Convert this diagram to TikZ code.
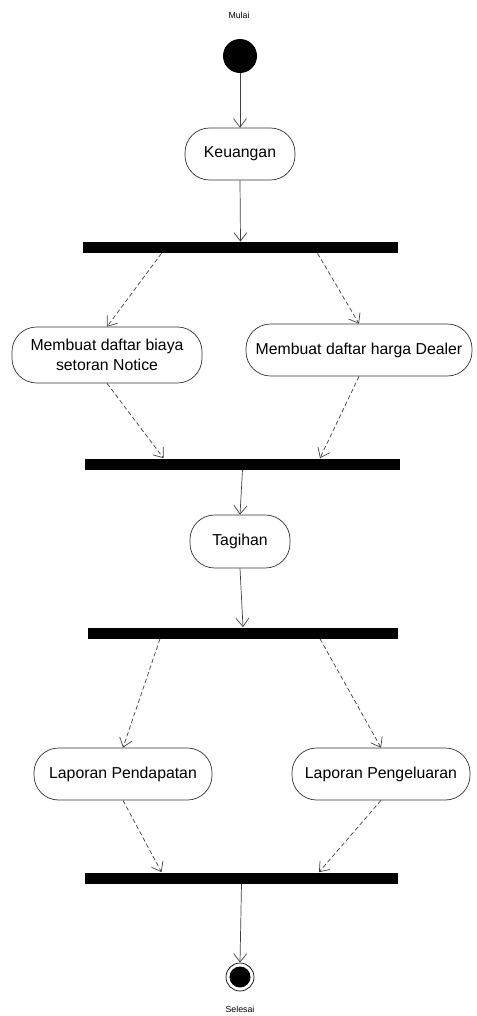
\documentclass[tikz,border=0pt]{standalone}
\usepackage{fontspec}
\setmainfont{Liberation Sans}
\usetikzlibrary{arrows.meta, positioning, calc}

\begin{document}
\begin{tikzpicture}[
        aktivitas/.style={
            rectangle,
            rounded corners=14pt,
            minimum height=1.04cm,
            align=center,
            font=\small,
            draw=black!80,
            thin,
            inner sep=2pt
        },
        batang/.style={
            rectangle,
            fill=black,
            minimum height=0.22cm,
            inner sep=0pt
        },
        label/.style={font=\tiny, inner sep=1pt},
        panah/.style={-{Straight Barb[length=1.7mm, width=2.6mm]}, draw=black!75, thin},
        putus/.style={panah, dash pattern=on 2.5pt off 1.5pt}
    ]
        \useasboundingbox (0,0) rectangle (9.52,-20.32);

        % awal
        \node[label] (mulailbl) at (4.78,-0.30) {Mulai};
        \node[circle, fill=black, minimum size=0.68cm, inner sep=0pt] (mulai) at (4.80,-1.12) {};

        \node[aktivitas, minimum width=2.2cm] (keuangan) at (4.80,-3.08) {Keuangan};
        \node[batang, minimum width=6.3cm] (bar1) at (4.81,-4.95) {};

        % cabang pertama
        \node[aktivitas, minimum width=3.8cm, minimum height=1.12cm] (biaya) at (2.14,-7.10)
            {Membuat daftar biaya\\setoran Notice};
        \node[aktivitas, minimum width=4.52cm] (harga) at (7.18,-7.00)
            {Membuat daftar harga Dealer};
        \node[batang, minimum width=6.3cm] (bar2) at (4.85,-9.28) {};

        \node[aktivitas, minimum width=2.0cm, minimum height=1.06cm] (tagihan) at (4.80,-10.83) {Tagihan};
        \node[batang, minimum width=6.2cm] (bar3) at (4.86,-12.66) {};

        % cabang kedua
        \node[aktivitas, minimum width=3.56cm] (pendapatan) at (2.46,-15.48) {Laporan Pendapatan};
        \node[aktivitas, minimum width=3.56cm] (pengeluaran) at (7.62,-15.48) {Laporan Pengeluaran};
        \node[batang, minimum width=6.26cm] (bar4) at (4.83,-17.56) {};

        % akhir
        \node[circle, draw=black, thin, minimum size=0.56cm, inner sep=0pt] (selesai) at (4.80,-19.54) {};
        \node[circle, fill=black, minimum size=0.42cm, inner sep=0pt] (selesaidot) at (selesai.center) {};
        \node[label] (selesailbl) at (4.80,-20.18) {Selesai};

        \draw[panah] (mulai.south) -- (keuangan.north);
        \draw[panah] (keuangan.south) -- (bar1.north);
        \draw[putus] ([xshift=-1.58cm]bar1.south) -- (biaya.north);
        \draw[putus] ([xshift=1.54cm]bar1.south) -- (harga.north);
        \draw[putus] (biaya.south) -- ([xshift=-1.58cm]bar2.north);
        \draw[putus] (harga.south) -- ([xshift=1.55cm]bar2.north);
        \draw[panah] (bar2.south) -- (tagihan.north);
        \draw[panah] (tagihan.south) -- (bar3.north);
        \draw[putus] ([xshift=-1.66cm]bar3.south) -- (pendapatan.north);
        \draw[putus] ([xshift=1.54cm]bar3.south) -- (pengeluaran.north);
        \draw[putus] (pendapatan.south) -- ([xshift=-1.6cm]bar4.north);
        \draw[putus] (pengeluaran.south) -- ([xshift=1.55cm]bar4.north);
        \draw[panah] (bar4.south) -- (selesai.north);
    \end{tikzpicture}
\end{document}
